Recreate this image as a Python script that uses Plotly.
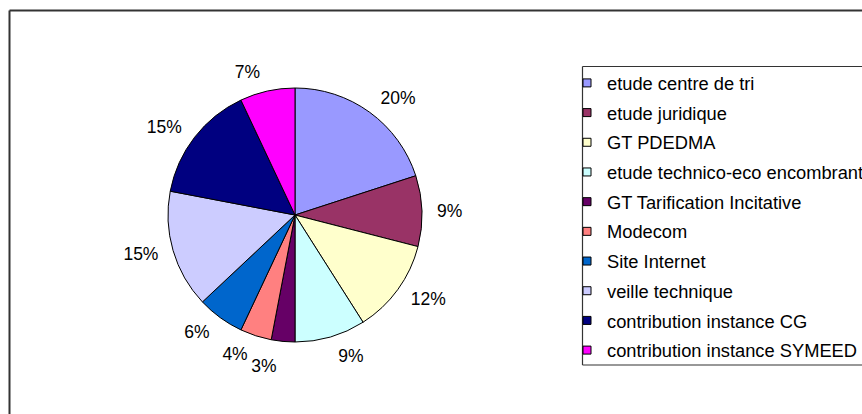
import plotly.graph_objects as go

labels = ["etude centre de tri", "etude juridique", "GT PDEDMA",
          "etude technico-eco encombrant", "GT Tarification Incitative",
          "Modecom", "Site Internet", "veille technique",
          "contribution instance CG", "contribution instance SYMEED"]
values = [20, 9, 12, 9, 3, 4, 6, 15, 15, 7]
colors = ["#9999FF", "#993366", "#FFFFCC", "#CCFFFF", "#660066",
          "#FF8080", "#0066CC", "#CCCCFF", "#000080", "#FF00FF"]

W, H = 862, 414
FONT = "Liberation Sans, Arial, sans-serif"


def px(x):
    return x / W


def py(y):
    return 1 - y / H


fig = go.Figure()

cx, cy, r = 295, 215, 127


def dom(rad):
    return dict(x=[px(cx - rad), px(cx + rad)], y=[py(cy + rad), py(cy - rad)])


# visible pie
fig.add_trace(go.Pie(
    labels=labels, values=values, sort=False, direction="clockwise",
    rotation=0,
    marker=dict(colors=colors, line=dict(color="black", width=1)),
    textinfo="none", showlegend=False, hoverinfo="label+percent",
    domain=dom(r),
))

# transparent copies carrying the outside percentage labels
# (the smallest slice is labelled by its own copy so it is not pushed away)
small = values.index(min(values))
groups = [([i for i in range(len(values)) if i != small], 10), ([small], 15)]
for grp, extra in groups:
    fig.add_trace(go.Pie(
        labels=labels, values=values, sort=False, direction="clockwise",
        rotation=0,
        marker=dict(colors=["rgba(0,0,0,0)"] * len(values),
                    line=dict(color="rgba(0,0,0,0)", width=0)),
        texttemplate=["%{percent:.0%}" if i in grp else "" for i in range(len(values))],
        textposition="outside",
        textfont=dict(family=FONT, size=17.5, color="black"),
        showlegend=False, hoverinfo="skip",
        domain=dom(r + extra),
    ))

for i, (lab, col) in enumerate(zip(labels, colors)):
    fig.add_trace(go.Scatter(
        x=[None], y=[None], mode="markers", name=lab,
        legendgroup=f"g{i}",
        marker=dict(symbol="square", size=8, color=col,
                    line=dict(color="black", width=1)),
    ))


def hline(x0, x1, y, w):
    return dict(type="line", xref="paper", yref="paper",
                x0=x0, x1=x1, y0=y, y1=y, line=dict(color="#333333", width=w))


def vline(x, y0, y1, w):
    return dict(type="line", xref="paper", yref="paper",
                x0=x, x1=x, y0=y0, y1=y1, line=dict(color="#333333", width=w))


fig.update_layout(
    width=W, height=H,
    margin=dict(l=0, r=0, t=0, b=0, autoexpand=False),
    paper_bgcolor="white", plot_bgcolor="white",
    font=dict(family=FONT, size=18.3, color="black"),
    xaxis=dict(visible=False, range=[0, 1]),
    yaxis=dict(visible=False, range=[0, 1]),
    legend=dict(x=px(567), y=py(64.5), xanchor="left", yanchor="top",
                xref="paper", yref="paper",
                bgcolor="rgba(0,0,0,0)", borderwidth=0,
                tracegroupgap=2.9,
                font=dict(family=FONT, size=18.3, color="black")),
    shapes=[
        # outer chart frame (cut by the window on the right and bottom)
        hline(px(9.5), 1.0, py(10.5), 2),
        vline(px(9.5), py(10.5), 0.0, 2),
        # legend box (cut by the window on the right)
        hline(px(582.5), 1.0, py(66.5), 1.2),
        hline(px(582.5), 1.0, py(365), 1.2),
        vline(px(582.5), py(66.5), py(365), 1.2),
    ],
)

fig.write_html(
    "out.html",
    config={"displayModeBar": False},
    post_script="document.body.style.margin='0px';"
                "document.body.style.overflow='hidden';",
)
